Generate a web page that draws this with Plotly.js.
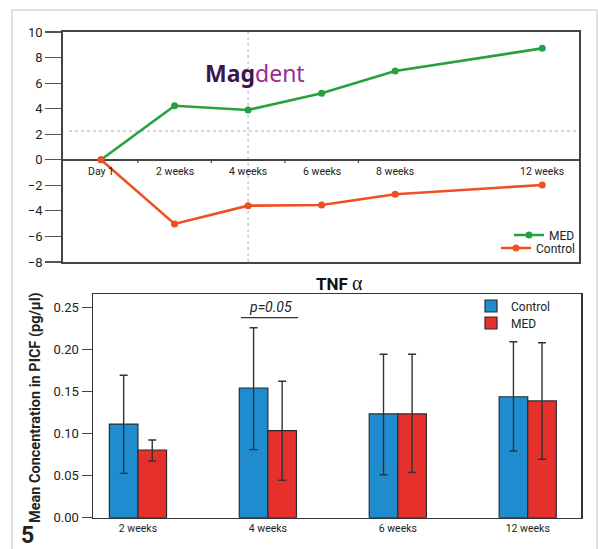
<!DOCTYPE html>
<html>
<head>
<meta charset="utf-8">
<script src="https://cdn.plot.ly/plotly-3.0.1.min.js"></script>
<style>
html,body{margin:0;padding:0;background:#fff;}
#chart{width:598px;height:549px;}
</style>
</head>
<body>
<div id="chart"></div>
<script>
// ---- Top chart data (change from Day 1) ----
var timeWeeks = [0, 2, 4, 6, 8, 12];
var timeLabels = ["Day 1", "2 weeks", "4 weeks", "6 weeks", "8 weeks", "12 weeks"];
var medChange = [0, 4.23, 3.9, 5.2, 6.95, 8.72];
var controlChange = [0, -5.02, -3.59, -3.54, -2.7, -1.97];
var topYTicks = [-8, -6, -4, -2, 0, 2, 4, 6, 8, 10];

// ---- Bottom chart data (TNF alpha) ----
var tnfCategories = ["2 weeks", "4 weeks", "6 weeks", "12 weeks"];
var tnfControl = [0.1115, 0.1544, 0.1235, 0.144];
var tnfControlErrPlus = [0.058, 0.0718, 0.071, 0.0655];
var tnfControlErrMinus = [0.0587, 0.0734, 0.0723, 0.0646];
var tnfMed = [0.0806, 0.1036, 0.1235, 0.139];
var tnfMedErrPlus = [0.0119, 0.0588, 0.071, 0.0693];
var tnfMedErrMinus = [0.0131, 0.0591, 0.0695, 0.0695];
var tnfYTicks = [0, 0.05, 0.10, 0.15, 0.20, 0.25];
var tnfYTickText = ["0.00", "0.05", "0.10", "0.15", "0.20", "0.25"];

var FONT = "Roboto, 'Liberation Sans', sans-serif";
var W = 598, H = 549;
function px(x){ return x / W; }
function py(y){ return 1 - y / H; }

var green = "#27a03f", orange = "#f04f23";
var blue = "#1f8ccf", red = "#e5302c";

var traces = [
  {x: timeWeeks, y: medChange, name: "MED", type: "scatter", mode: "lines+markers",
   xaxis: "x", yaxis: "y", legend: "legend",
   line: {color: green, width: 2.6}, marker: {color: green, size: 7}},
  {x: timeWeeks, y: controlChange, name: "Control", type: "scatter", mode: "lines+markers",
   xaxis: "x", yaxis: "y", legend: "legend3",
   line: {color: orange, width: 2.6}, marker: {color: orange, size: 7}},
  {x: tnfCategories, y: tnfControl, name: "Control", type: "bar",
   xaxis: "x2", yaxis: "y2", legend: "legend2",
   marker: {color: blue, line: {color: "#2b2b2b", width: 1.2}},
   error_y: {type: "data", symmetric: false, array: tnfControlErrPlus, arrayminus: tnfControlErrMinus,
             color: "#333", thickness: 1.4, width: 4}},
  {x: tnfCategories, y: tnfMed, name: "MED", type: "bar",
   xaxis: "x2", yaxis: "y2", legend: "legend4",
   marker: {color: red, line: {color: "#2b2b2b", width: 1.2}},
   error_y: {type: "data", symmetric: false, array: tnfMedErrPlus, arrayminus: tnfMedErrMinus,
             color: "#333", thickness: 1.4, width: 4}}
];

var annotations = [];
// top x labels at the zero line
for (var i = 0; i < timeWeeks.length; i++) {
  annotations.push({x: timeWeeks[i], y: 0, xref: "x", yref: "y", text: timeLabels[i],
    showarrow: false, xanchor: "center", yanchor: "top", yshift: -3,
    font: {family: FONT, size: 10.5, color: "#222"}});
}
// logo
annotations.push({x: px(203), y: py(73), xref: "paper", yref: "paper", xanchor: "left", yanchor: "middle",
  showarrow: false,
  text: "<span style='color:#3a1650;font-weight:bold'>Mag</span><span style='color:#9c2c8f'>dent</span>",
  font: {family: "'Noto Sans', 'DejaVu Sans', sans-serif", size: 23}});
// bottom title
annotations.push({x: px(339), y: py(283), xref: "paper", yref: "paper", showarrow: false,
  xanchor: "center", yanchor: "middle",
  text: "<b>TNF</b> <span style='font-family:Liberation Serif, serif;font-size:20px'>α</span>",
  font: {family: FONT, size: 17, color: "#111"}});
// y axis title bottom
annotations.push({x: px(35), y: py(408), xref: "paper", yref: "paper", showarrow: false, textangle: -90,
  xanchor: "center", yanchor: "middle",
  text: "<b>Mean Concentration in PICF (pg/µl)</b>",
  font: {family: FONT, size: 14.5, color: "#222"}});
// figure number
annotations.push({x: px(28), y: py(535), xref: "paper", yref: "paper", showarrow: false,
  xanchor: "center", yanchor: "middle",
  text: "<b>5</b>", font: {family: FONT, size: 23, color: "#222"}});
// p value
annotations.push({x: px(270), y: py(307), xref: "paper", yref: "paper", showarrow: false,
  xanchor: "center", yanchor: "middle",
  text: "<i>p=0.05</i>", font: {family: FONT, size: 14, color: "#222"}});

var shapes = [
  // outer light frame
  {type: "rect", xref: "paper", yref: "paper", x0: px(12), x1: px(597), y0: py(560), y1: py(10),
   line: {color: "#d8d8d8", width: 1.5}, fillcolor: "rgba(0,0,0,0)", layer: "below"},
  // dashed reference lines (top chart)
  {type: "line", xref: "x", yref: "y", x0: 4, x1: 4, y0: -8, y1: 10,
   line: {color: "#b0b0b0", width: 1, dash: "3px,3px"}, layer: "below"},
  {type: "line", xref: "paper", yref: "y", x0: px(69), x1: px(578), y0: 2.25, y1: 2.25,
   line: {color: "#b0b0b0", width: 1, dash: "3px,3px"}, layer: "below"},
  // p-value underline
  {type: "line", xref: "paper", yref: "paper", x0: px(241), x1: px(298), y0: py(317.7), y1: py(317.7),
   line: {color: "#333", width: 1.3}}
];
// small ticks on zero line between time points
[1, 3, 5, 7].forEach(function(t){
  shapes.push({type: "line", xref: "x", yref: "paper", x0: t, x1: t, y0: py(159.8), y1: py(163),
    line: {color: "#444", width: 1.2}});
});

var legFont = {family: FONT, size: 12, color: "#222"};
var layout = {
  width: W, height: H,
  margin: {l: 0, r: 0, t: 0, b: 0, pad: 0},
  paper_bgcolor: "#fff", plot_bgcolor: "rgba(0,0,0,0)",
  showlegend: true,
  font: {family: FONT, color: "#222"},
  xaxis: {domain: [px(63), px(579)], range: [-1.034, 13.0], anchor: "y",
    showgrid: false, zeroline: false, showticklabels: false, ticks: "",
    showline: true, mirror: true, linecolor: "#444", linewidth: 1.8, fixedrange: true},
  yaxis: {domain: [py(262), py(32)], range: [-8, 10], anchor: "x",
    tickvals: topYTicks, ticks: "outside", ticklen: 16, tickcolor: "#555", tickwidth: 1.2,
    showgrid: false, zeroline: true, zerolinecolor: "#444", zerolinewidth: 1.5,
    showline: true, mirror: true, linecolor: "#444", linewidth: 1.8,
    tickfont: {family: FONT, size: 13, color: "#222"}, fixedrange: true},
  xaxis2: {domain: [px(93), px(581)], range: [-0.346, 3.41], anchor: "y2", type: "category",
    showgrid: false, zeroline: false, ticks: "",
    showline: true, mirror: true, linecolor: "#333", linewidth: 1.5,
    tickfont: {family: FONT, size: 10.5, color: "#222"}, fixedrange: true},
  yaxis2: {domain: [py(517.7), py(294)], range: [0, 0.2663], anchor: "x2",
    tickvals: tnfYTicks, ticktext: tnfYTickText, ticks: "outside", ticklen: 10, tickcolor: "#444", tickwidth: 1.2,
    showgrid: false, zeroline: false,
    showline: true, mirror: true, linecolor: "#333", linewidth: 1.5,
    tickfont: {family: FONT, size: 13, color: "#222"}, fixedrange: true},
  barmode: "group", bargap: 0.56, bargroupgap: 0,
  legend: {x: px(580), y: py(235), xanchor: "right", yanchor: "middle", bgcolor: "rgba(0,0,0,0)",
    font: legFont, itemwidth: 30},
  legend3: {x: px(580), y: py(248), xanchor: "right", yanchor: "middle", bgcolor: "rgba(0,0,0,0)",
    font: legFont, itemwidth: 30},
  legend2: {x: px(471), y: py(306), xanchor: "left", yanchor: "middle", bgcolor: "rgba(0,0,0,0)",
    font: legFont, itemwidth: 30},
  legend4: {x: px(471), y: py(323), xanchor: "left", yanchor: "middle", bgcolor: "rgba(0,0,0,0)",
    font: legFont, itemwidth: 30},
  annotations: annotations,
  shapes: shapes
};

Plotly.newPlot("chart", traces, layout, {displayModeBar: false, staticPlot: true});
</script>
</body>
</html>
